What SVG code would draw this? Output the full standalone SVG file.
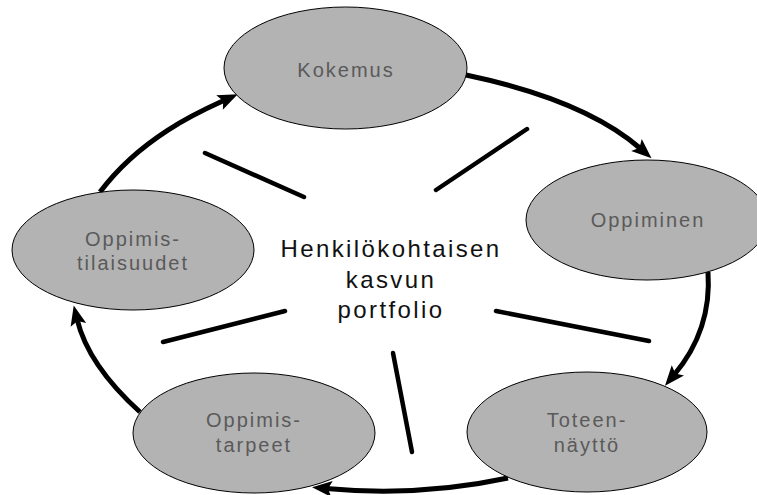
<svg xmlns="http://www.w3.org/2000/svg" width="757" height="495" viewBox="0 0 757 495">
<style>
.node ellipse{fill:#b3b3b3;stroke:#000;stroke-width:1}
.lbl{font-family:"Liberation Sans",Arial,sans-serif;font-size:20px;letter-spacing:2px;fill:#5a5a5a;text-anchor:middle}
.center{font-family:"Liberation Sans",Arial,sans-serif;font-size:24px;letter-spacing:2.4px;fill:#111;text-anchor:middle}
.arrow{fill:none;stroke:#000;stroke-width:5;marker-end:url(#ah)}
.spoke{stroke:#000;stroke-width:4.5;stroke-linecap:round}
</style>
<defs>
<marker id="ah" markerUnits="userSpaceOnUse" markerWidth="20" markerHeight="16" refX="6" refY="8" orient="auto" overflow="visible">
<path d="M0,0 L20,8 L0,16 L4,8 z" fill="#000"/>
</marker>
</defs>
<rect width="757" height="495" fill="#fff"/>
<g id="connectors">
<path class="arrow" d="M466,75 Q585,100 641,149"/>
<path class="arrow" d="M708,272 Q712,330 674,375"/>
<path class="arrow" d="M508,478 Q420,497 326,488.5"/>
<path class="arrow" d="M140,412 Q88,365 77,319"/>
<path class="arrow" d="M100,192 C142,136 203,110 225,100"/>
<line class="spoke" x1="205" y1="153" x2="304" y2="197"/>
<line class="spoke" x1="436" y1="190" x2="527" y2="129"/>
<line class="spoke" x1="496" y1="311" x2="649" y2="341"/>
<line class="spoke" x1="163" y1="342" x2="285" y2="311"/>
<line class="spoke" x1="393" y1="353" x2="412" y2="452"/>
</g>
<g id="kokemus" class="node">
<ellipse cx="345.5" cy="68" rx="121.5" ry="61"/>
<text class="lbl" x="346" y="77">Kokemus</text>
</g>
<g id="oppiminen" class="node">
<ellipse cx="647" cy="220" rx="121" ry="60"/>
<text class="lbl" x="648" y="227">Oppiminen</text>
</g>
<g id="toteennaytto" class="node">
<ellipse cx="587" cy="432" rx="120" ry="60"/>
<text class="lbl" x="587" y="427">Toteen-</text>
<text class="lbl" x="587" y="452">näyttö</text>
</g>
<g id="oppimistarpeet" class="node">
<ellipse cx="254" cy="433" rx="121" ry="60"/>
<text class="lbl" x="254" y="427">Oppimis-</text>
<text class="lbl" x="254" y="452">tarpeet</text>
</g>
<g id="oppimistilaisuudet" class="node">
<ellipse cx="133" cy="250" rx="121" ry="60"/>
<text class="lbl" x="133" y="246">Oppimis-</text>
<text class="lbl" x="133" y="270">tilaisuudet</text>
</g>
<g id="portfolio">
<text class="center" x="391" y="257">Henkilökohtaisen</text>
<text class="center" x="391" y="288">kasvun</text>
<text class="center" x="391" y="318">portfolio</text>
</g>
</svg>
